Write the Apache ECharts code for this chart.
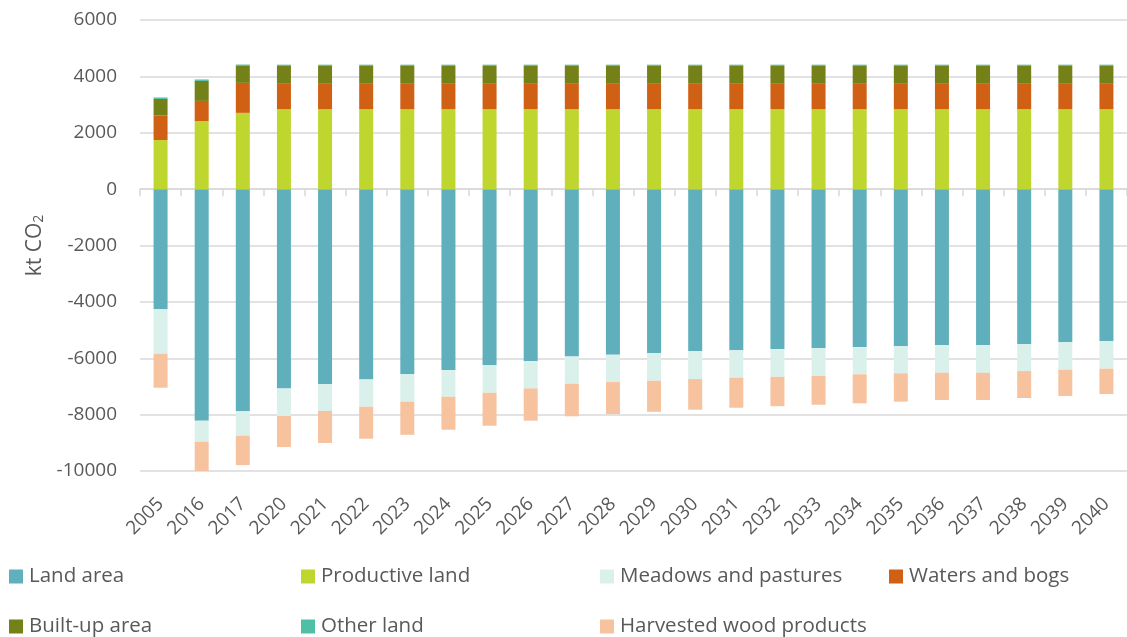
<!DOCTYPE html>
<html>
<head>
<meta charset="utf-8">
<script src="https://cdn.jsdelivr.net/npm/echarts@6/dist/echarts.min.js"></script>
<style>html,body{margin:0;padding:0;background:#fff;}#c{width:1127px;height:637px;}</style>
</head>
<body>
<div id="c"></div>
<script>
const years = ['2005','2016','2017','2020','2021','2022','2023','2024','2025','2026','2027','2028','2029','2030','2031','2032','2033','2034','2035','2036','2037','2038','2039','2040'];
const landArea = [-4265,-8215,-7880,-7070,-6915,-6750,-6570,-6420,-6250,-6100,-5935,-5875,-5815,-5755,-5720,-5675,-5640,-5605,-5570,-5530,-5530,-5495,-5425,-5390];
const productiveLand = [1740,2410,2705,2840,2840,2840,2840,2840,2840,2840,2840,2840,2840,2840,2840,2840,2840,2840,2840,2840,2840,2840,2840,2840];
const meadows = [-1575,-745,-870,-980,-955,-970,-970,-945,-975,-970,-970,-970,-985,-985,-970,-985,-990,-965,-965,-985,-985,-960,-980,-980];
const waters = [870,720,1065,920,920,920,920,920,920,920,920,920,920,920,920,920,920,920,920,920,920,920,920,920];
const builtUp = [590,710,600,610,610,610,610,610,610,610,610,610,610,610,610,610,610,610,610,610,610,610,610,610];
const otherLand = [50,50,50,45,45,45,45,45,45,45,45,45,45,45,45,45,45,45,45,45,45,45,45,45];
const hwp = [-1205,-1040,-1040,-1100,-1135,-1135,-1175,-1170,-1170,-1145,-1155,-1135,-1100,-1085,-1065,-1040,-1020,-1030,-1005,-965,-965,-955,-935,-900];
const yTicks = [-10000,-8000,-6000,-4000,-2000,0,2000,4000,6000];

const seriesDefs = [
  {name:'Land area', data:landArea, color:'#5FAFBC'},
  {name:'Productive land', data:productiveLand, color:'#BFD62F'},
  {name:'Meadows and pastures', data:meadows, color:'#DAF0EA'},
  {name:'Waters and bogs', data:waters, color:'#D06014'},
  {name:'Built-up area', data:builtUp, color:'#748118'},
  {name:'Other land', data:otherLand, color:'#4FBFA5'},
  {name:'Harvested wood products', data:hwp, color:'#F7C29E'}
];
const legendPos = [[9,561],[301,561],[600,561],[889,561],[9,611],[301,611],[600,611]];
const font = '"Open Sans", Lato, sans-serif';
const txt = '#595959';

const chart = echarts.init(document.getElementById('c'));
chart.setOption({
  animation:false,
  grid:{left:140, top:20, width:998, height:451},
  xAxis:[
    {type:'category', data:years, position:'bottom',
     axisLine:{onZero:true, lineStyle:{color:'#d9d9d9', width:1.5}},
     axisTick:{show:true, length:7, lineStyle:{color:'#d9d9d9', width:1.5}},
     axisLabel:{show:false}, splitLine:{show:false}},
    {type:'category', data:years, position:'bottom',
     axisLine:{show:false, onZero:false}, axisTick:{show:false},
     axisLabel:{rotate:45, fontSize:19, color:txt, fontFamily:font, margin:30}}
  ],
  yAxis:{type:'value', min:-10000, max:6000, interval:2000,
    name:'{a|kt CO}{b|2}', nameLocation:'middle', nameGap:80, nameRotate:90,
    nameTextStyle:{fontSize:21, color:txt, fontFamily:font,
      rich:{a:{fontSize:21, color:txt, fontFamily:font}, b:{fontSize:14, color:txt, fontFamily:font, padding:[8,0,0,0]}}},
    axisLine:{show:false}, axisTick:{show:false},
    axisLabel:{fontSize:19, color:txt, fontFamily:font, margin:23,
      formatter:v=>yTicks.includes(v)?String(v):''},
    splitLine:{lineStyle:{color:'#d9d9d9', width:1.5}}},
  legend: seriesDefs.map((s,i)=>({
    data:[s.name], left:legendPos[i][0], top:legendPos[i][1], icon:'rect',
    itemWidth:14, itemHeight:14, itemGap:0, padding:[5,0,5,0],
    textStyle:{fontSize:20.5, color:txt, fontFamily:font, padding:[0,0,0,1]}
  })),
  series: seriesDefs.map(s=>({
    name:s.name, type:'bar', stack:'total', xAxisIndex:0, data:s.data, barWidth:14,
    itemStyle:{color:s.color}
  }))
});
</script>
</body>
</html>
